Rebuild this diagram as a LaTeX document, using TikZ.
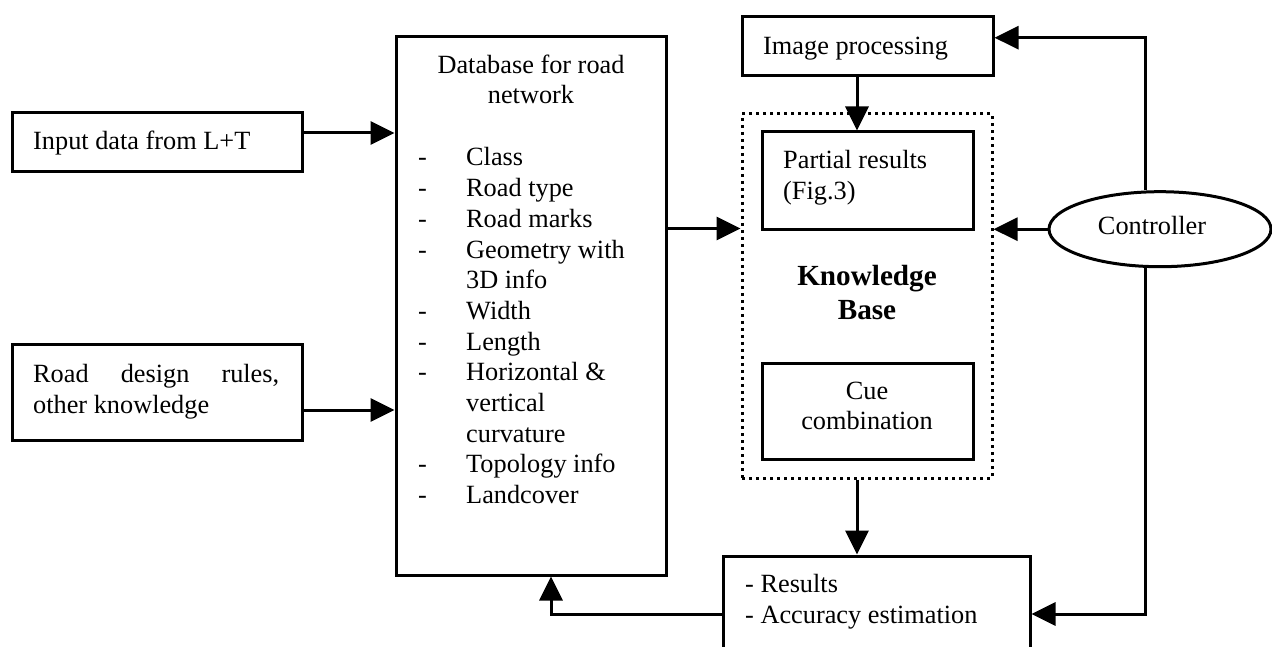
\documentclass[tikz,border=0pt]{standalone}
\usepackage{fontspec}
\setmainfont{Liberation Serif}
\usetikzlibrary{arrows.meta,shapes.geometric}
\begin{document}
\begin{tikzpicture}[x=1pt,y=-1pt,
  box/.style={draw,line width=3pt,inner sep=0pt},
  txt/.style={inner sep=0pt,font=\fontsize{26.3}{30.7}\selectfont},
  bold/.style={inner sep=0pt,font=\fontsize{29.2}{34.5}\selectfont\bfseries},
  arr/.style={line width=3pt,-{Triangle[length=24pt,width=23pt]}},
  ln/.style={line width=3pt}]
\useasboundingbox (0,0) rectangle (1272,647);
\clip (0,0) rectangle (1272,647);
\fill[white] (0,0) rectangle (1272,647);

% left inputs
\node[box,minimum width=290pt,minimum height=59pt] (inp) at (157,142.5) {};
\node[txt,anchor=base west] (inpT) at (33,150) {Input data from L+T};

\node[box,minimum width=290pt,minimum height=96pt] (rdr) at (157,392) {};
\node[txt,anchor=north west,text width=246pt,align=justify] (rdrT) at (33,364)
  {\noindent Road design rules,\linebreak other knowledge};

% database
\node[box,minimum width=270pt,minimum height=538pt] (db) at (531,306) {};
\node[txt,align=center] (dbT) at (531,79.4) {Database for road\\network};
\node[txt,anchor=base west] (dbL) at (418,166) {%
\begin{tabular}[t]{@{}p{48pt}@{}l@{}}
- & Class\\
- & Road type\\
- & Road marks\\
- & Geometry with\\
  & 3D info\\
- & Width\\
- & Length\\
- & Horizontal \&\\
  & vertical\\
  & curvature\\
- & Topology info\\
- & Landcover
\end{tabular}};

% image processing
\node[box,minimum width=251pt,minimum height=59pt] (ip) at (867.5,46.5) {};
\node[txt,anchor=base west] (ipT) at (763,55) {Image processing};

% knowledge base
\node[draw,line width=3pt,dash pattern=on 3pt off 4pt,inner sep=0pt,
  minimum width=250pt,minimum height=364pt] (kb) at (867,296) {};
\node[box,minimum width=211pt,minimum height=98pt] (pr) at (867.5,181) {};
\node[txt,anchor=north west,align=left] (prT) at (783,150) {Partial results\\(Fig.3)};
\node[bold,align=center] (kbT) at (867,292.4) {Knowledge\\Base};
\node[box,minimum width=211pt,minimum height=96pt] (cue) at (867.5,411) {};
\node[txt,align=center] (cueT) at (867,406) {Cue\\combination};

% controller
\node[draw,ellipse,line width=3pt,inner sep=0pt,
  minimum width=222pt,minimum height=75pt] (ctrl) at (1160,229.2) {};
\node[txt,anchor=base] (ctrlT) at (1152,235) {Controller};

% results
\node[box,minimum width=307pt,minimum height=116pt] (res) at (876.5,614) {};
\node[txt,anchor=north west,align=left] (resT) at (745,574) {- Results\\- Accuracy estimation};

% helper coordinates
\coordinate (cx) at (1145,0);
\coordinate (inpout) at ([yshift=9.5pt]inp.east);
\coordinate (rdrout) at ([yshift=-18pt]rdr.east);
\coordinate (dbout) at ([yshift=77.5pt]db.east);
\coordinate (ipin) at ([yshift=8.8pt]ip.east);
\coordinate (ipout) at ([xshift=-10.5pt]ip.south);
\coordinate (kbout) at ([xshift=-10pt]kb.south);
\coordinate (dbin) at ([xshift=20pt]db.south);

% connectors
\draw[arr] (inpout) -- (inpout -| db.west);
\draw[arr] (rdrout) -- (rdrout -| db.west);
\draw[arr] (dbout) -- (dbout -| kb.west);
\draw[arr] (ipout) -- (ipout |- pr.north);
\draw[arr] (ctrl.west) -- (ctrl.west -| kb.east);
\draw[arr] (cx |- ctrl.north) |- (ipin);
\draw[arr] (cx |- ctrl.south) |- (res.east);
\draw[arr] (kbout) -- (kbout |- res.north);
\draw[arr] (res.west) -| (dbin);
\end{tikzpicture}
\end{document}
